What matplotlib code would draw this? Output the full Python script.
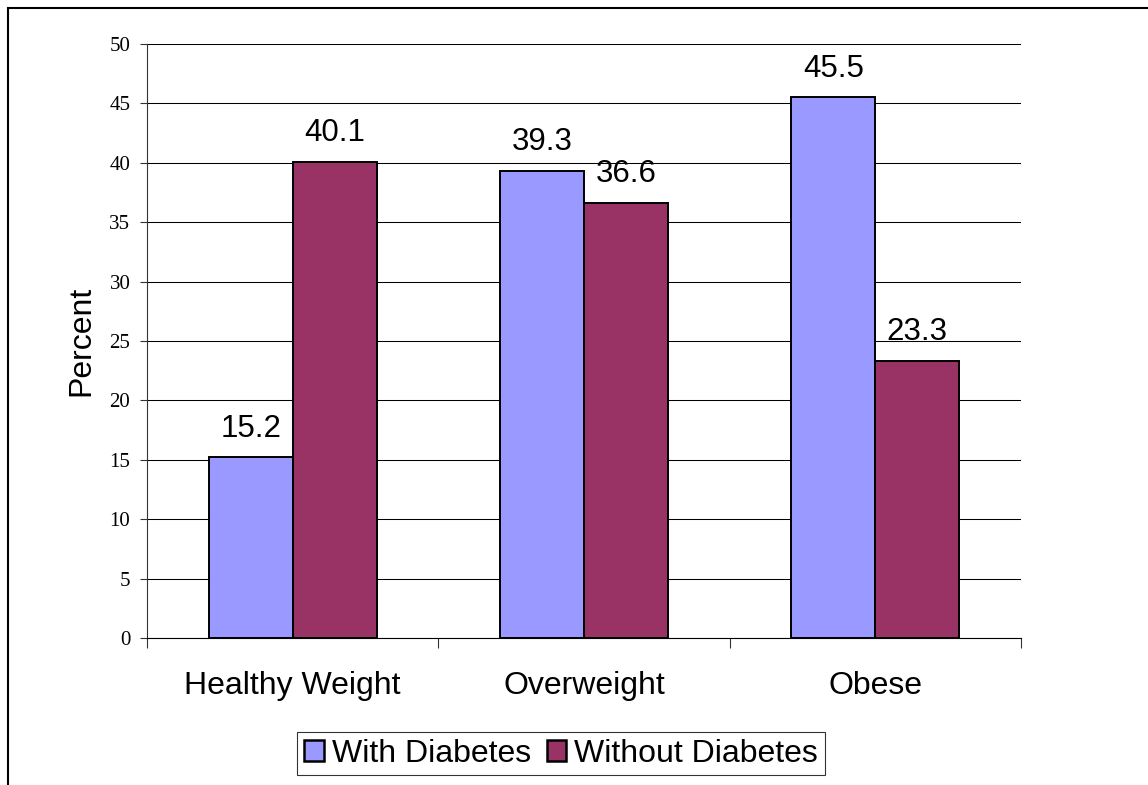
import matplotlib.pyplot as plt
from matplotlib.patches import Rectangle

categories = ["Healthy Weight", "Overweight", "Obese"]
with_diabetes = [15.2, 39.3, 45.5]
without_diabetes = [40.1, 36.6, 23.3]
yticks = [0, 5, 10, 15, 20, 25, 30, 35, 40, 45, 50]

blue = "#9999FF"
maroon = "#993366"
sans = "Liberation Sans"
serif = "Liberation Serif"

fig = plt.figure(figsize=(11.48, 7.85), dpi=100)
ax = fig.add_axes([147 / 1148, 1 - 638 / 785, 874 / 1148, 594 / 785])

# outer chart border (right and bottom are cut off in the reference)
fig.patches.append(Rectangle((8 / 1148, -0.2), 1.5, 1 - 8 / 785 + 0.2,
                             transform=fig.transFigure, fill=False,
                             edgecolor="black", linewidth=1.5))

x = list(range(len(categories)))
w = 0.2884
b1 = ax.bar([i - w / 2 for i in x], with_diabetes, w, color=blue,
            edgecolor="black", linewidth=1.4, label="With Diabetes", zorder=3)
b2 = ax.bar([i + w / 2 for i in x], without_diabetes, w, color=maroon,
            edgecolor="black", linewidth=1.4, label="Without Diabetes", zorder=3)

for bars, vals in [(b1, with_diabetes), (b2, without_diabetes)]:
    for bar, v in zip(bars, vals):
        ax.annotate(f"{v:.1f}", (bar.get_x() + bar.get_width() / 2, v),
                    xytext=(0, 15), textcoords="offset points",
                    ha="center", va="baseline", fontsize=22.5, family=sans)

ax.set_xlim(-0.5, 2.5)
ax.set_ylim(0, 50)
ax.set_yticks(yticks)
ax.set_yticklabels([str(t) for t in yticks], family=serif, fontsize=15)
ax.tick_params(axis="y", length=5, width=0.8, pad=7, color="#333333")
ax.set_xticks(x)
ax.set_xticklabels(categories, family=sans, fontsize=23)
ax.tick_params(axis="x", which="major", length=0, pad=24)
ax.set_xticks([-0.5, 0.5, 1.5, 2.5], minor=True)
ax.tick_params(axis="x", which="minor", length=7, width=0.8, color="#333333")

ax.grid(axis="y", color="black", linewidth=0.75, zorder=0)
ax.set_axisbelow(True)
for s in ["top", "right"]:
    ax.spines[s].set_visible(False)
ax.spines["left"].set_color("#333333")
ax.spines["left"].set_linewidth(0.8)
ax.spines["bottom"].set_color("black")
ax.spines["bottom"].set_linewidth(0.8)

ax.text(-0.075, 0.5, "Percent", transform=ax.transAxes, rotation=90,
        ha="center", va="center", fontsize=23, family=sans)

leg = fig.legend(handles=[b1, b2], loc="center", ncol=2,
                 bbox_to_anchor=(561 / 1148, 1 - 753.5 / 785),
                 bbox_transform=fig.transFigure,
                 prop={"family": sans, "size": 23},
                 handlelength=0.62, handleheight=0.62, handletextpad=0.25,
                 columnspacing=0.5, borderpad=0.2, borderaxespad=0,
                 fancybox=False, shadow=False, frameon=True)
leg.get_frame().set_edgecolor("black")
leg.get_frame().set_linewidth(0.8)
for h in leg.legend_handles:
    h.set_linewidth(1.8)

fig.savefig("out.png", dpi=100)
